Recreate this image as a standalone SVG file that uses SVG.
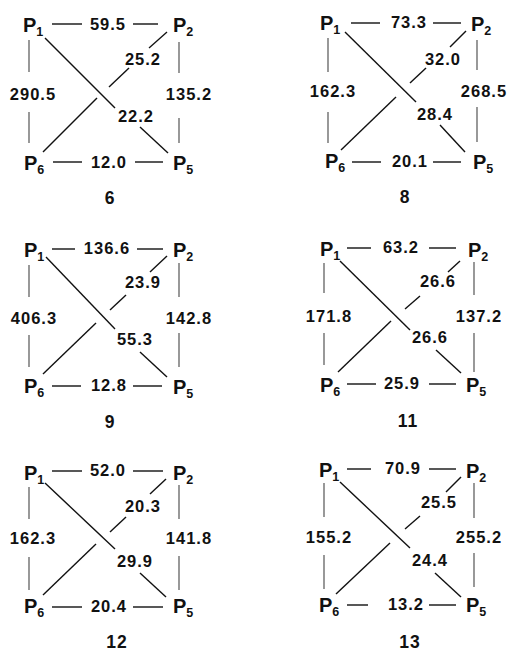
<svg xmlns="http://www.w3.org/2000/svg" width="507" height="651" viewBox="0 0 507 651">
<style>
.bg{fill:#fff}
.e line{stroke:#111;stroke-width:1.4;stroke-linecap:butt}
.e line.v{stroke:#444;stroke-width:1.1}
.lbl{font-family:"Liberation Sans",Arial,sans-serif;font-weight:bold;font-size:16.5px;letter-spacing:1px;fill:#111;text-anchor:middle}
.pn{font-family:"Liberation Sans",Arial,sans-serif;font-weight:bold;font-size:20px;fill:#111}
.sub{font-size:12.5px}
.ttl{font-family:"Liberation Sans",Arial,sans-serif;font-weight:bold;font-size:17.5px;letter-spacing:1px;fill:#111;text-anchor:middle}
</style>
<rect class="bg" width="507" height="651"/>

<!-- Panel 6 -->
<g id="panel6">
  <g id="p6-P1"><text class="pn" x="23" y="32">P<tspan class="sub" dy="4">1</tspan></text></g>
  <g id="p6-P2"><text class="pn" x="173" y="32">P<tspan class="sub" dy="4">2</tspan></text></g>
  <g id="p6-P6"><text class="pn" x="24" y="170">P<tspan class="sub" dy="4">6</tspan></text></g>
  <g id="p6-P5"><text class="pn" x="173" y="170">P<tspan class="sub" dy="4">5</tspan></text></g>
  <g id="p6-connectors" class="e">
    <line x1="52" y1="24" x2="82" y2="24"/><line x1="133" y1="24" x2="158" y2="24"/>
    <line class="v" x1="29" y1="40" x2="29" y2="72"/><line class="v" x1="29" y1="112" x2="29" y2="143"/>
    <line class="v" x1="179" y1="42" x2="179" y2="73"/><line class="v" x1="179" y1="118" x2="179" y2="143"/>
    <line x1="53" y1="162" x2="82" y2="162"/><line x1="135" y1="162" x2="163" y2="162"/>
    <line x1="45" y1="38" x2="115" y2="108"/><line x1="140" y1="127" x2="168" y2="153"/>
    <line x1="167" y1="32" x2="149" y2="48"/><line x1="129" y1="68" x2="109" y2="87"/><line x1="97" y1="98" x2="43" y2="152"/>
  </g>
  <g id="p6-labels">
    <text class="lbl" x="108" y="30">59.5</text>
    <text class="lbl" x="33" y="100">290.5</text>
    <text class="lbl" x="189" y="100">135.2</text>
    <text class="lbl" x="109" y="168">12.0</text>
    <text class="lbl" x="136" y="122">22.2</text>
    <text class="lbl" x="143" y="65">25.2</text>
    <text class="ttl" x="110" y="204">6</text>
  </g>
</g>

<!-- Panel 8 -->
<g id="panel8" transform="translate(297,0)">
  <g id="p8-P1"><text class="pn" x="23" y="30">P<tspan class="sub" dy="4">1</tspan></text></g>
  <g id="p8-P2"><text class="pn" x="174" y="31">P<tspan class="sub" dy="4">2</tspan></text></g>
  <g id="p8-P6"><text class="pn" x="28" y="168">P<tspan class="sub" dy="4">6</tspan></text></g>
  <g id="p8-P5"><text class="pn" x="176" y="169">P<tspan class="sub" dy="4">5</tspan></text></g>
  <g id="p8-connectors" class="e">
    <line x1="54" y1="23" x2="83" y2="23"/><line x1="136" y1="23" x2="164" y2="23"/>
    <line class="v" x1="31" y1="38" x2="31" y2="72"/><line class="v" x1="31" y1="112" x2="31" y2="143"/>
    <line class="v" x1="180" y1="40" x2="180" y2="70"/><line class="v" x1="180" y1="107" x2="180" y2="142"/>
    <line x1="55" y1="162" x2="84" y2="162"/><line x1="136" y1="162" x2="164" y2="162"/>
    <line x1="48" y1="32" x2="119" y2="102"/><line x1="143" y1="125" x2="168" y2="152"/>
    <line x1="169" y1="31" x2="153" y2="47"/><line x1="129" y1="68" x2="113" y2="83"/><line x1="99" y1="97" x2="44" y2="150"/>
  </g>
  <g id="p8-labels">
    <text class="lbl" x="112" y="28">73.3</text>
    <text class="lbl" x="36" y="97">162.3</text>
    <text class="lbl" x="187" y="97">268.5</text>
    <text class="lbl" x="113" y="167">20.1</text>
    <text class="lbl" x="138" y="120">28.4</text>
    <text class="lbl" x="146" y="65">32.0</text>
    <text class="ttl" x="108" y="203">8</text>
  </g>
</g>

<!-- Panel 9 -->
<g id="panel9" transform="translate(0,226)">
  <g id="p9-P1"><text class="pn" x="24" y="31">P<tspan class="sub" dy="4">1</tspan></text></g>
  <g id="p9-P2"><text class="pn" x="173" y="31">P<tspan class="sub" dy="4">2</tspan></text></g>
  <g id="p9-P6"><text class="pn" x="24" y="167">P<tspan class="sub" dy="4">6</tspan></text></g>
  <g id="p9-P5"><text class="pn" x="173" y="168">P<tspan class="sub" dy="4">5</tspan></text></g>
  <g id="p9-connectors" class="e">
    <line x1="52" y1="23" x2="75" y2="23"/><line x1="137" y1="23" x2="163" y2="23"/>
    <line class="v" x1="29" y1="39" x2="29" y2="71"/><line class="v" x1="29" y1="109" x2="29" y2="141"/>
    <line class="v" x1="179" y1="37" x2="179" y2="71"/><line class="v" x1="179" y1="107" x2="179" y2="141"/>
    <line x1="52" y1="160" x2="81" y2="160"/><line x1="133" y1="160" x2="162" y2="160"/>
    <line x1="46" y1="31" x2="115" y2="103"/><line x1="140" y1="126" x2="167" y2="151"/>
    <line x1="167" y1="30" x2="150" y2="46"/><line x1="126" y1="69" x2="110" y2="84"/><line x1="96" y1="97" x2="43" y2="148"/>
  </g>
  <g id="p9-labels">
    <text class="lbl" x="107" y="28">136.6</text>
    <text class="lbl" x="34" y="98">406.3</text>
    <text class="lbl" x="189" y="98">142.8</text>
    <text class="lbl" x="109" y="165">12.8</text>
    <text class="lbl" x="135" y="119">55.3</text>
    <text class="lbl" x="143" y="62">23.9</text>
    <text class="ttl" x="110" y="202">9</text>
  </g>
</g>

<!-- Panel 11 -->
<g id="panel11" transform="translate(297,226)">
  <g id="p11-P1"><text class="pn" x="23" y="30">P<tspan class="sub" dy="4">1</tspan></text></g>
  <g id="p11-P2"><text class="pn" x="171" y="31">P<tspan class="sub" dy="4">2</tspan></text></g>
  <g id="p11-P6"><text class="pn" x="23" y="166">P<tspan class="sub" dy="4">6</tspan></text></g>
  <g id="p11-P5"><text class="pn" x="169" y="166">P<tspan class="sub" dy="4">5</tspan></text></g>
  <g id="p11-connectors" class="e">
    <line x1="50" y1="22" x2="74" y2="22"/><line x1="132" y1="22" x2="159" y2="22"/>
    <line class="v" x1="27" y1="37" x2="27" y2="67"/><line class="v" x1="27" y1="107" x2="27" y2="139"/>
    <line class="v" x1="177" y1="36" x2="177" y2="69"/><line class="v" x1="177" y1="107" x2="177" y2="146"/>
    <line x1="50" y1="158" x2="79" y2="158"/><line x1="132" y1="158" x2="159" y2="158"/>
    <line x1="43" y1="35" x2="113" y2="104"/><line x1="139" y1="124" x2="164" y2="147"/>
    <line x1="163" y1="35" x2="151" y2="46"/><line x1="123" y1="70" x2="108" y2="83"/><line x1="94" y1="95" x2="41" y2="146"/>
  </g>
  <g id="p11-labels">
    <text class="lbl" x="104" y="27">63.2</text>
    <text class="lbl" x="32" y="96">171.8</text>
    <text class="lbl" x="182" y="96">137.2</text>
    <text class="lbl" x="105" y="163">25.9</text>
    <text class="lbl" x="133" y="117">26.6</text>
    <text class="lbl" x="141" y="61">26.6</text>
    <text class="ttl" x="111" y="201">11</text>
  </g>
</g>

<!-- Panel 12 -->
<g id="panel12" transform="translate(0,449)">
  <g id="p12-P1"><text class="pn" x="24" y="31">P<tspan class="sub" dy="4">1</tspan></text></g>
  <g id="p12-P2"><text class="pn" x="173" y="31">P<tspan class="sub" dy="4">2</tspan></text></g>
  <g id="p12-P6"><text class="pn" x="24" y="164">P<tspan class="sub" dy="4">6</tspan></text></g>
  <g id="p12-P5"><text class="pn" x="173" y="164">P<tspan class="sub" dy="4">5</tspan></text></g>
  <g id="p12-connectors" class="e">
    <line x1="52" y1="22" x2="82" y2="22"/><line x1="133" y1="22" x2="163" y2="22"/>
    <line class="v" x1="29" y1="38" x2="29" y2="70"/><line class="v" x1="29" y1="108" x2="29" y2="141"/>
    <line class="v" x1="179" y1="36" x2="179" y2="70"/><line class="v" x1="179" y1="107" x2="179" y2="141"/>
    <line x1="52" y1="158" x2="82" y2="158"/><line x1="133" y1="158" x2="163" y2="158"/>
    <line x1="45" y1="34" x2="115" y2="100"/><line x1="140" y1="124" x2="166" y2="148"/>
    <line x1="166" y1="30" x2="150" y2="45"/><line x1="126" y1="68" x2="110" y2="83"/><line x1="96" y1="95" x2="43" y2="146"/>
  </g>
  <g id="p12-labels">
    <text class="lbl" x="108" y="27">52.0</text>
    <text class="lbl" x="33" y="95">162.3</text>
    <text class="lbl" x="189" y="95">141.8</text>
    <text class="lbl" x="109" y="163">20.4</text>
    <text class="lbl" x="135" y="118">29.9</text>
    <text class="lbl" x="143" y="63">20.3</text>
    <text class="ttl" x="117" y="199">12</text>
  </g>
</g>

<!-- Panel 13 -->
<g id="panel13" transform="translate(297,449)">
  <g id="p13-P1"><text class="pn" x="22" y="28">P<tspan class="sub" dy="4">1</tspan></text></g>
  <g id="p13-P2"><text class="pn" x="169" y="29">P<tspan class="sub" dy="4">2</tspan></text></g>
  <g id="p13-P6"><text class="pn" x="22" y="163">P<tspan class="sub" dy="4">6</tspan></text></g>
  <g id="p13-P5"><text class="pn" x="169" y="163">P<tspan class="sub" dy="4">5</tspan></text></g>
  <g id="p13-connectors" class="e">
    <line x1="50" y1="20" x2="74" y2="20"/><line x1="132" y1="20" x2="159" y2="20"/>
    <line class="v" x1="27" y1="34" x2="27" y2="68"/><line class="v" x1="27" y1="106" x2="27" y2="140"/>
    <line class="v" x1="177" y1="34" x2="177" y2="69"/><line class="v" x1="177" y1="104" x2="177" y2="138"/>
    <line x1="50" y1="156" x2="71" y2="156"/><line x1="132" y1="156" x2="159" y2="156"/>
    <line x1="43" y1="33" x2="113" y2="99"/><line x1="138" y1="124" x2="164" y2="148"/>
    <line x1="164" y1="28" x2="149" y2="43"/><line x1="123" y1="67" x2="108" y2="80"/><line x1="93" y1="94" x2="39" y2="145"/>
  </g>
  <g id="p13-labels">
    <text class="lbl" x="106" y="25">70.9</text>
    <text class="lbl" x="32" y="94">155.2</text>
    <text class="lbl" x="182" y="94">255.2</text>
    <text class="lbl" x="109" y="161">13.2</text>
    <text class="lbl" x="133" y="117">24.4</text>
    <text class="lbl" x="142" y="59">25.5</text>
    <text class="ttl" x="113" y="199">13</text>
  </g>
</g>
</svg>
